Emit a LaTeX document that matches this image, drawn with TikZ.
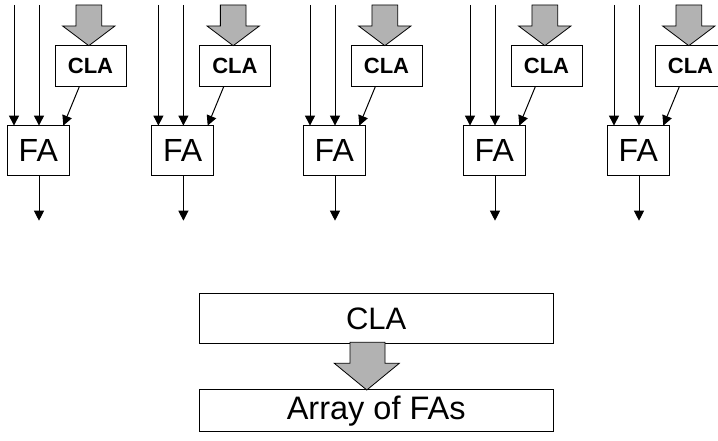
\documentclass[tikz,border=0pt]{standalone}
\usepackage{fontspec}
\setmainfont{Liberation Sans}
\usetikzlibrary{arrows.meta}

\tikzset{
  conn/.style={line width=1pt, -{Triangle[width=10pt,length=10pt]}},
  fabox/.style={draw, line width=1pt, inner sep=0pt, outer sep=0pt,
    minimum width=62pt, minimum height=50pt,
    font=\fontsize{32}{36}\selectfont},
  clabox/.style={draw, line width=1pt, fill=white, inner sep=0pt, outer sep=0pt,
    minimum width=71pt, minimum height=41pt,
    font=\fontsize{22}{26}\selectfont\bfseries},
  widebox/.style={draw, line width=1pt, inner sep=0pt, outer sep=0pt,
    minimum width=353.7pt, font=\fontsize{31}{36}\selectfont},
  fatarrow/.style={draw, line width=0.8pt, fill=gray!60}
}

\begin{document}
\begin{tikzpicture}[x=1pt, y=-1pt]
\useasboundingbox (0,0) rectangle (718,441);
\clip (0,0) rectangle (718,441);

% one full adder with its lookahead block per bit
\foreach \i/\L in {1/7.3, 2/151.7, 3/303.3, 4/463.3, 5/607.3}{
  \node[fabox]  (fa\i)  at (\L+31, 150.6) {FA};
  \node[clabox] (cla\i) at (\L+83.2, 66.2) {CLA};
  % block arrow feeding the lookahead unit
  \draw[fatarrow] (\L+68.65,5) -- (\L+94.35,5) -- (\L+94.35,26) -- (\L+107.65,26)
    -- (\L+81.5,45.7) -- (\L+55.35,26) -- (\L+68.65,26) -- cycle;
  % operand inputs
  \coordinate (ina\i) at (\L+6.7,5);
  \coordinate (inb\i) at (\L+31.7,5);
  \draw[conn] (ina\i) -- (ina\i |- fa\i.north);
  \draw[conn] (inb\i) -- (inb\i |- fa\i.north);
  % carry from the lookahead unit
  \draw[conn] ([xshift=-11.2pt]cla\i.south) -- ([xshift=25pt]fa\i.north);
  % sum output
  \coordinate (out\i) at (\L+31.7,220.7);
  \draw[conn] (out\i |- fa\i.south) -- (out\i);
}

% block view
\node[widebox, minimum height=49.5pt] (clab) at (376.2,318.7) {CLA};
\node[widebox, minimum height=41.7pt, font=\fontsize{32.5}{36}\selectfont]
  (fas) at (376.2,410.8) {Array of FAs};
\draw[fatarrow] (350,342.3) -- (385,342.3) -- (385,363.3) -- (399.3,363.3)
  -- (366.8,390) -- (334.3,363.3) -- (350,363.3) -- cycle;
\end{tikzpicture}
\end{document}
